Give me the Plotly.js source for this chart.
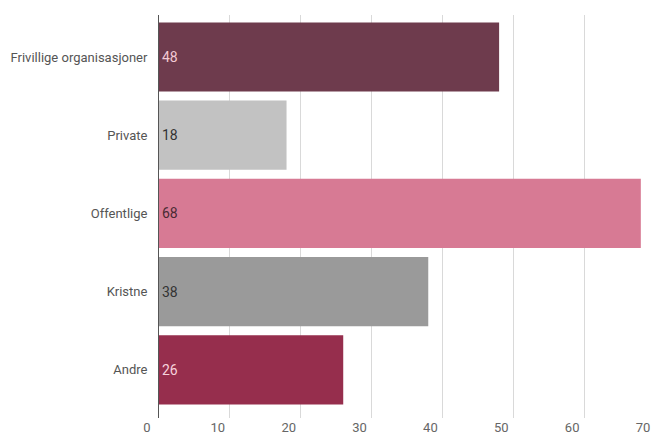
<!DOCTYPE html>
<html>
<head>
<meta charset="utf-8">
<script src="https://cdn.plot.ly/plotly-3.0.1.min.js"></script>
<style>html,body{margin:0;padding:0;background:#fff;}#chart{width:656px;height:435px;}</style>
</head>
<body>
<div id="chart"></div>
<script>
var categories = ["Frivillige organisasjoner", "Private", "Offentlige", "Kristne", "Andre"];
var values = [48, 18, 68, 38, 26];
var barColors = ["#6e3b4d", "#c2c2c2", "#d77a94", "#9a9a9a", "#962e4d"];
var textColors = ["#f3c9d4", "#333333", "#4a2a33", "#333333", "#f6d3dc"];
var xTicks = [0, 10, 20, 30, 40, 50, 60, 70];

var trace = {
  type: "bar",
  orientation: "h",
  y: categories,
  x: values,
  marker: {color: barColors, line: {width: 0}},
  text: values.map(String),
  textposition: "inside",
  insidetextanchor: "start",
  textangle: 0,
  textfont: {family: "Liberation Sans Narrow, Roboto, sans-serif", size: 14, color: textColors},
  constraintext: "none",
  hoverinfo: "none",
  cliponaxis: false
};

var layout = {
  width: 656, height: 435,
  margin: {l: 159, r: 1, t: 15, b: 17},
  paper_bgcolor: "#ffffff",
  plot_bgcolor: "#ffffff",
  showlegend: false,
  bargap: 0.115,
  font: {family: "Liberation Sans Narrow, Roboto, sans-serif", size: 13, color: "#555555"},
  xaxis: {
    range: [0, 70],
    tickvals: xTicks,
    ticktext: xTicks.map(String),
    showgrid: true,
    gridcolor: "#d9d9d9",
    gridwidth: 1,
    zeroline: false,
    showline: false,
    ticks: "",
    ticklabelshift: -12,
    ticklabelstandoff: 0,
    tickfont: {size: 13, color: "#666666"},
    fixedrange: true
  },
  yaxis: {
    type: "category",
    range: [4.616, -0.537],
    showgrid: false,
    zeroline: false,
    showline: true,
    linecolor: "#555555",
    linewidth: 1,
    ticks: "",
    ticklabelstandoff: 8,
    tickfont: {size: 13, color: "#555555"},
    fixedrange: true
  }
};

Plotly.newPlot("chart", [trace], layout, {displayModeBar: false, staticPlot: true});
</script>
</body>
</html>
